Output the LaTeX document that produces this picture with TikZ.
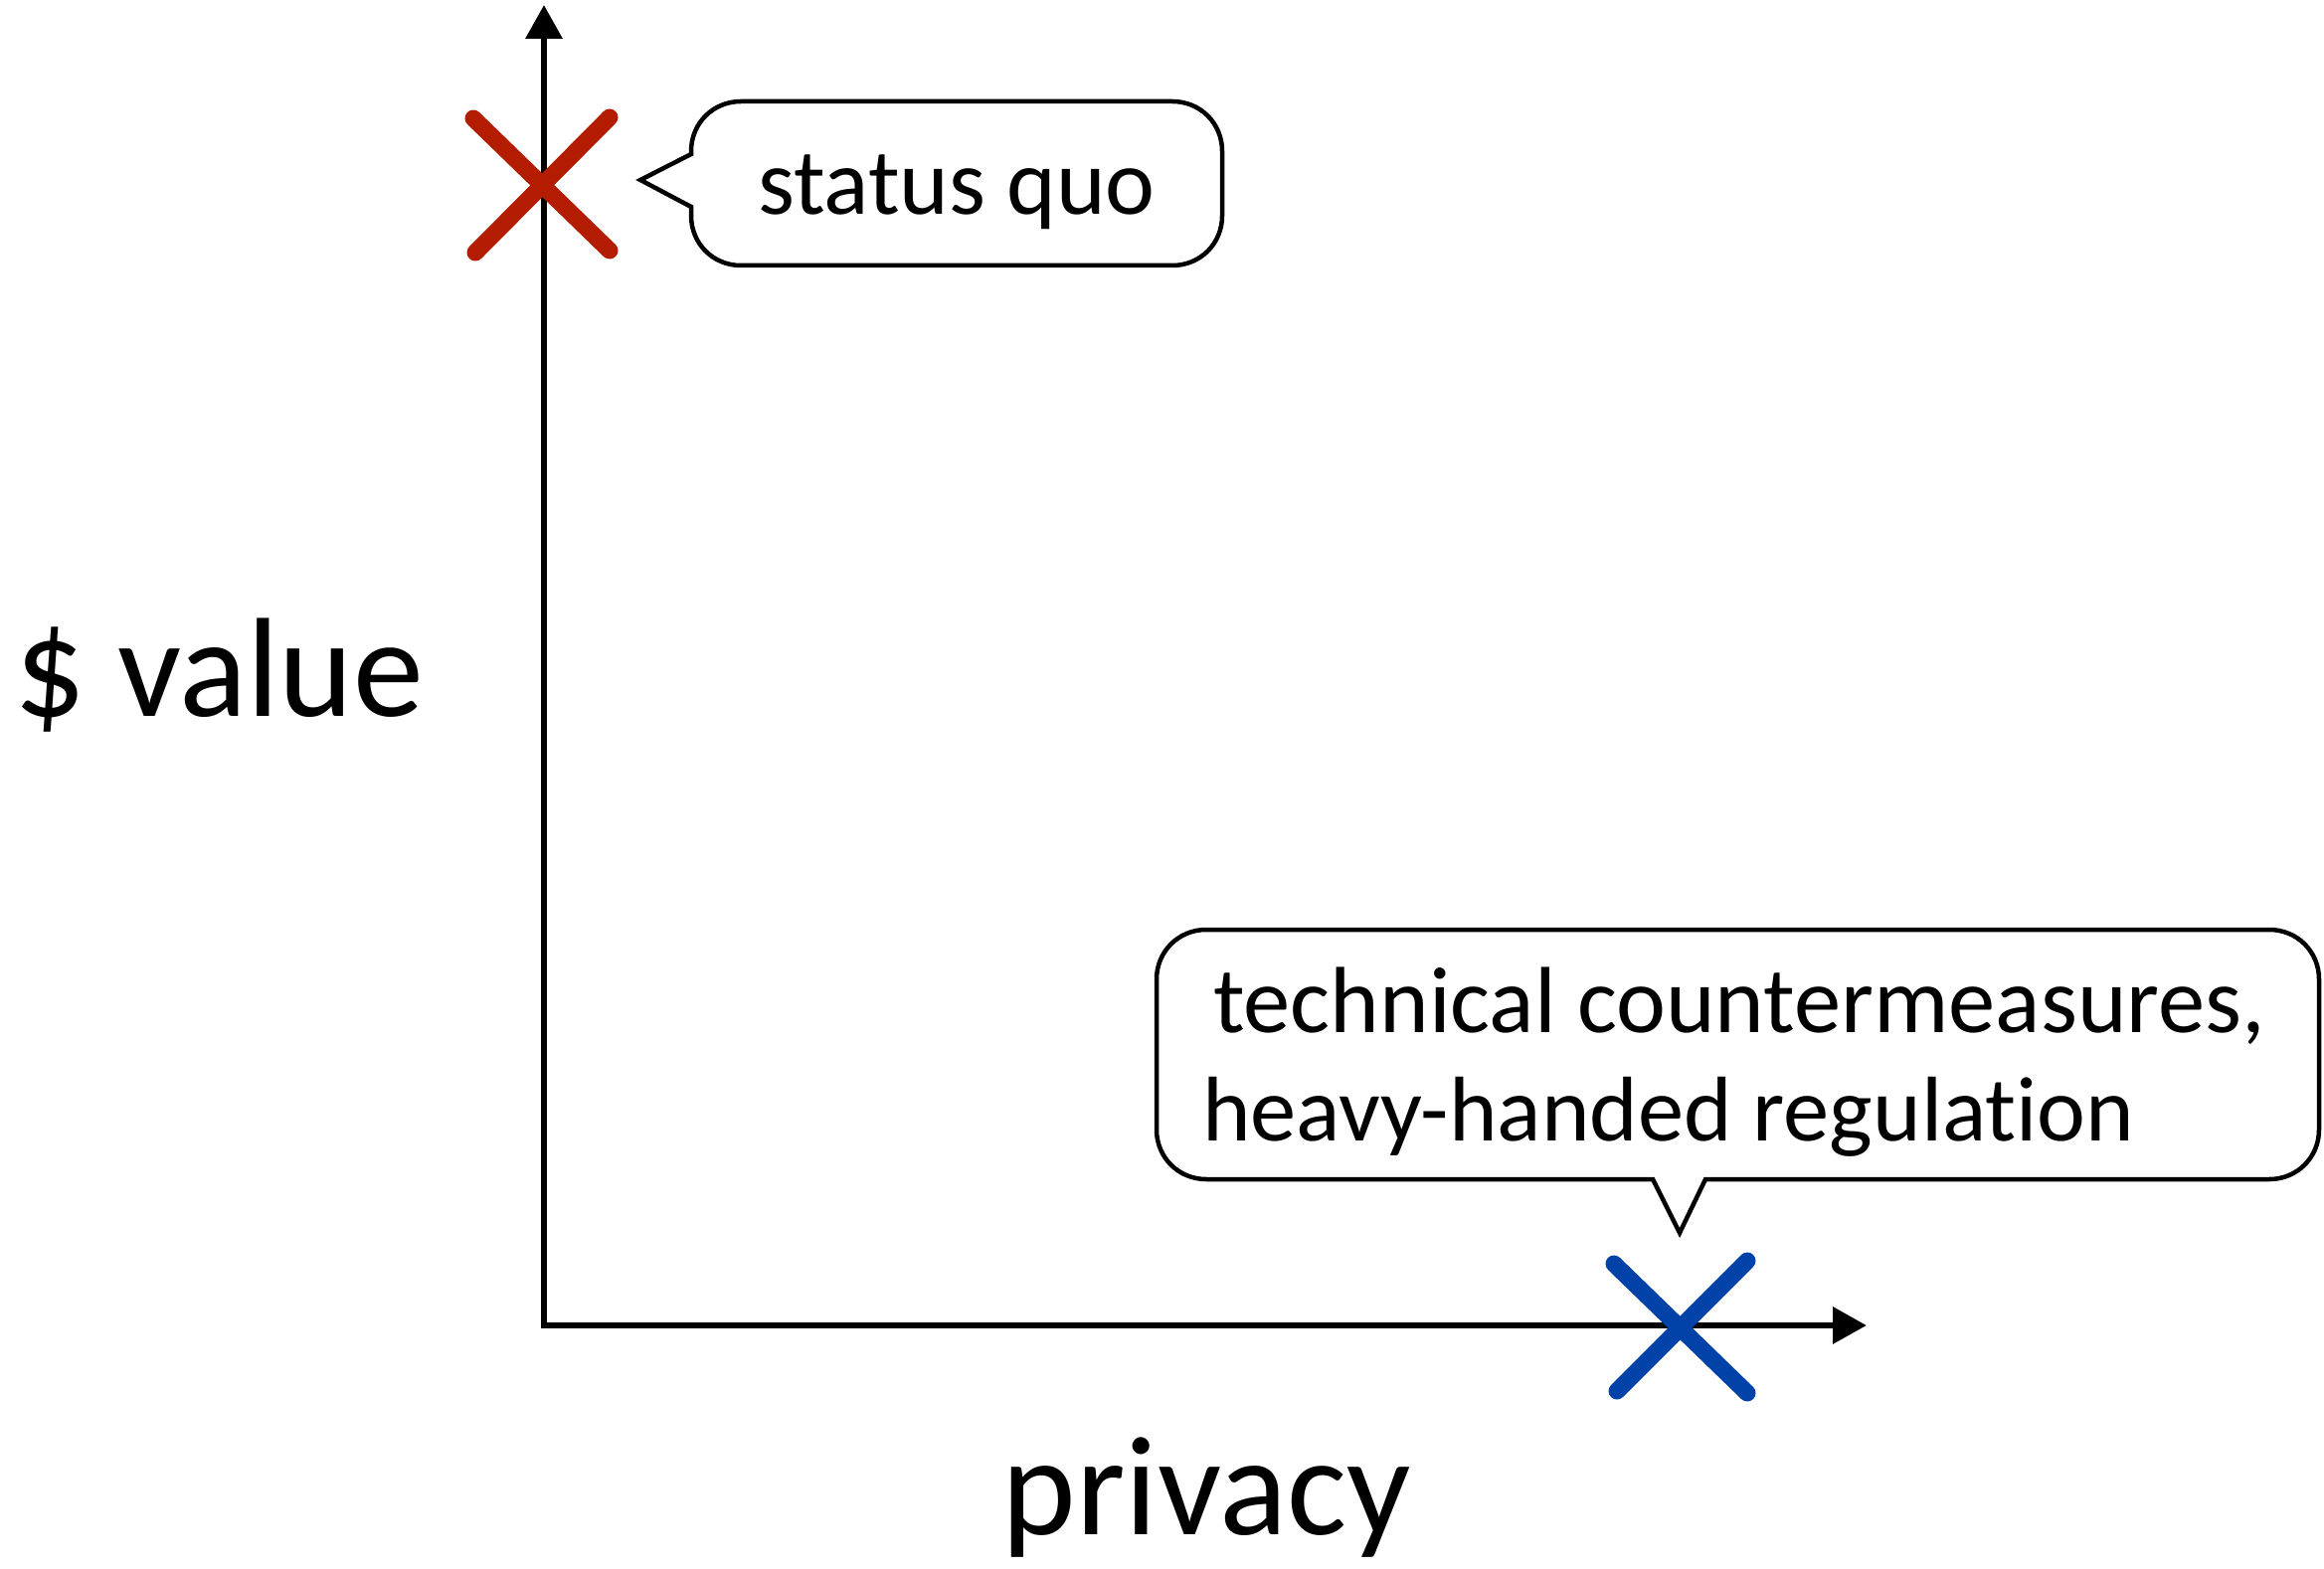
\documentclass[tikz,border=0pt]{standalone}
\usepackage{fontspec}
\setmainfont[Ligatures=NoCommon]{Carlito}
\usetikzlibrary{arrows.meta}
\definecolor{xred}{RGB}{180,28,0}
\definecolor{xblue}{RGB}{0,66,168}
\tikzset{
  axisline/.style={line width=6.5pt, line join=miter, arrows={Triangle[length=34pt,width=36pt]-Triangle[length=34pt,width=36pt]}},
  callout/.style={line width=4.5pt, line join=miter, fill=white},
  brush/.style={line width=17pt, line cap=round},
  smalltxt/.style={inner sep=0pt, font=\fontsize{94.5}{110}\selectfont},
  bigtxt/.style={inner sep=0pt, font=\fontsize{142}{160}\selectfont},
}
\begin{document}
\begin{tikzpicture}[x=1pt,y=-1pt]
\useasboundingbox (0,0) rectangle (2337,1578);
% axes
\coordinate (ytip) at (547,5);
\coordinate (origin) at (547,1333);
\coordinate (xtip) at (1877,1333);
\draw[axisline] (ytip) -- (origin) -- (xtip);
% red X (status quo)
\coordinate (r1) at (476,119);
\coordinate (r2) at (613,252);
\coordinate (r3) at (478,254);
\coordinate (r4) at (613,118);
\draw[brush, xred] (r1) -- (r2);
\draw[brush, xred] (r3) -- (r4);
% blue X
\coordinate (b1) at (1623,1271);
\coordinate (b2) at (1757,1401);
\coordinate (b3) at (1626,1399);
\coordinate (b4) at (1757,1268);
\draw[brush, xblue] (b1) -- (b2);
\draw[brush, xblue] (b3) -- (b4);
% callout 1
\draw[callout] (695,155) -- (644,181) -- (695,208) -- (695,217)
  .. controls (695,245) and (717,267) .. (745,267) -- (1179,267)
  .. controls (1207,267) and (1229,245) .. (1229,217) -- (1229,152)
  .. controls (1229,124) and (1207,102) .. (1179,102) -- (745,102)
  .. controls (717,102) and (695,124) .. (695,152) -- cycle;
\node[smalltxt, anchor=base] (sq) at (962,216) {status quo};
% callout 2
\draw[callout] (1715,1186) -- (1689,1240) -- (1662,1186) -- (1213,1186)
  .. controls (1185,1186) and (1163,1164) .. (1163,1136) -- (1163,985)
  .. controls (1163,957) and (1185,935) .. (1213,935) -- (2282,935)
  .. controls (2310,935) and (2332,957) .. (2332,985) -- (2332,1136)
  .. controls (2332,1164) and (2310,1186) .. (2282,1186) -- cycle;
\node[smalltxt, anchor=base west] (t1) at (1220,1038) {technical countermeasures,};
\node[smalltxt, anchor=base west, font=\fontsize{92.5}{110}\selectfont] (t2) at (1209,1147) {heavy-handed regulation};
% axis labels
\node[bigtxt, anchor=base] (yl) at (220,720) {\$ value};
\node[bigtxt, anchor=base] (xl) at (1213,1543) {privacy};
\end{tikzpicture}
\end{document}
